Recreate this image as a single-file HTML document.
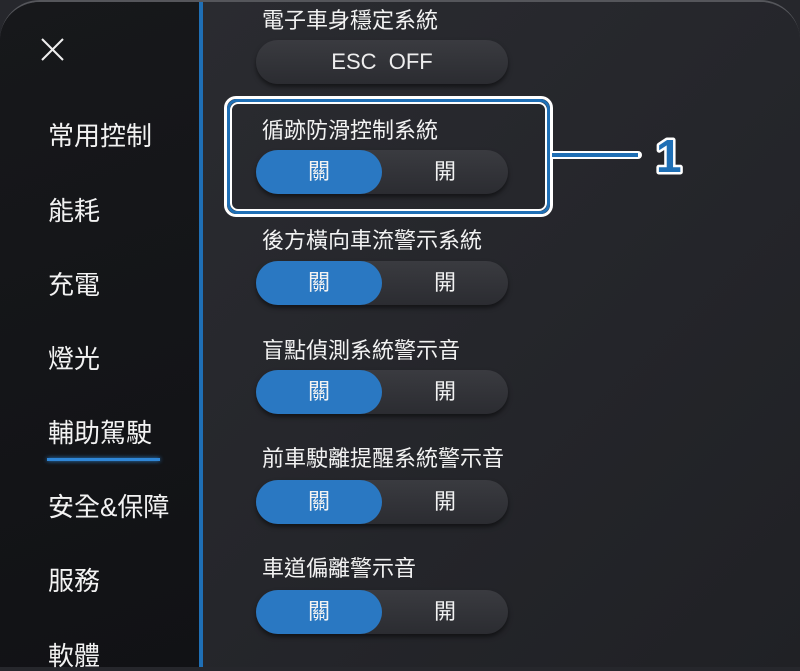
<!DOCTYPE html>
<html><head><meta charset="utf-8"><style>
*{margin:0;padding:0;box-sizing:border-box}
body{width:800px;height:667px;overflow:hidden;background:#26272c;font-family:"Liberation Sans","Noto Sans CJK TC",sans-serif;color:#f2f2f2;position:relative}
.frame{position:absolute;left:0;top:0;width:800px;height:667px;border-top-left-radius:40px;border-top-right-radius:40px;overflow:hidden;border-top:2px solid #55565b;background:#26272c}
.side{position:absolute;left:0;top:0;width:199px;height:667px;background:linear-gradient(160deg,#17181b,#111215)}
.vl{position:absolute;left:199px;top:0;width:4px;height:667px;background:#1f6fb5}
.main{position:absolute;left:203px;top:0;right:0;height:667px;background:linear-gradient(135deg,#2a2b30 0%,#25262b 50%,#202125 100%)}
.nav{position:absolute;left:48px;font-size:26px;line-height:30px}
.lab{position:absolute;left:262px;font-size:22px;line-height:26px}
.tg{position:absolute;left:256px;width:252px;height:44px;border-radius:22px;background:linear-gradient(#3a3b40,#2b2c31);box-shadow:0 3px 5px rgba(0,0,0,.5);font-size:22px}
.tg .on{position:absolute;left:0;top:0;width:126px;height:44px;border-radius:22px;background:#2a78c2;text-align:center;line-height:44px}
.tg .off{position:absolute;left:126px;top:0;width:126px;height:44px;text-align:center;line-height:44px}
</style></head><body>
<div class="frame"><div class="side"></div><div class="main"></div><div class="vl"></div></div>
<svg style="position:absolute;left:0;top:0" width="800" height="667">
<line x1="42" y1="39" x2="63" y2="60" stroke="#eee" stroke-width="2"/>
<line x1="63" y1="39" x2="42" y2="60" stroke="#eee" stroke-width="2"/>
<text x="656" y="172" font-family="Liberation Sans" font-weight="bold" font-size="46" fill="#1f6fb5" stroke="#fff" stroke-width="5" paint-order="stroke" stroke-linejoin="round">1</text>
</svg>
<div class="nav" style="top:121px">常用控制</div>
<div class="nav" style="top:196px">能耗</div>
<div class="nav" style="top:270px">充電</div>
<div class="nav" style="top:344px">燈光</div>
<div class="nav" style="top:418px">輔助駕駛</div>
<div style="position:absolute;left:47px;top:458px;width:113px;height:3px;background:#2f86d6;box-shadow:0 0 4px #2f86d6"></div>
<div class="nav" style="top:492px">安全&amp;保障</div>
<div class="nav" style="top:566px">服務</div>
<div class="nav" style="top:641px">軟體</div>

<div class="lab" style="top:8px">電子車身穩定系統</div>
<div class="tg" style="top:40px;text-align:center;line-height:44px;color:#eee">ESC&nbsp;&nbsp;OFF</div>
<div class="lab" style="top:118px">循跡防滑控制系統</div>
<div class="tg" style="top:150px"><div class="on">關</div><div class="off">開</div></div>
<div class="lab" style="top:228px">後方橫向車流警示系統</div>
<div class="tg" style="top:261px"><div class="on">關</div><div class="off">開</div></div>
<div class="lab" style="top:338px">盲點偵測系統警示音</div>
<div class="tg" style="top:370px"><div class="on">關</div><div class="off">開</div></div>
<div class="lab" style="top:446px">前車駛離提醒系統警示音</div>
<div class="tg" style="top:480px"><div class="on">關</div><div class="off">開</div></div>
<div class="lab" style="top:556px">車道偏離警示音</div>
<div class="tg" style="top:590px"><div class="on">關</div><div class="off">開</div></div>

<div style="position:absolute;left:224px;top:96px;width:329px;height:121px;border:3px solid #fff;border-radius:12px"></div>
<div style="position:absolute;left:227px;top:99px;width:323px;height:115px;border:3px solid #1f6fb5;border-radius:10px"></div>
<div style="position:absolute;left:230px;top:102px;width:317px;height:109px;border:2px solid #fff;border-radius:8px"></div>
<div style="position:absolute;left:552px;top:151px;width:90px;height:8px;background:#fff;border-radius:0 4px 4px 0"></div>
<div style="position:absolute;left:552px;top:153px;width:86px;height:4px;background:#1f6fb5"></div>
</body></html>
